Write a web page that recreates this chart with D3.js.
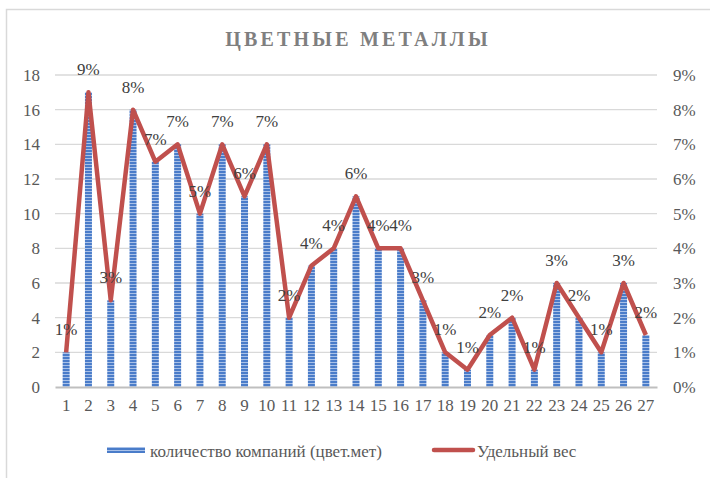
<!DOCTYPE html>
<html>
<head>
<meta charset="utf-8">
<script src="https://cdn.jsdelivr.net/npm/d3@7"></script>
<style>
  body { margin: 0; background: #fff; }
  svg text { font-family: "Liberation Serif", "Times New Roman", Tinos, "DejaVu Serif", "Noto Serif", Times, serif !important; }
</style>
</head>
<body>
<script>
// chart data
const categories = ["1","2","3","4","5","6","7","8","9","10","11","12","13","14","15","16","17","18","19","20","21","22","23","24","25","26","27"];
const companies  = [2, 17, 5, 16, 13, 14, 10, 14, 11, 14, 4, 7, 8, 11, 8, 8, 5, 2, 1, 3, 4, 1, 6, 4, 2, 6, 3];
const shares     = [0.010, 0.085, 0.025, 0.080, 0.065, 0.070, 0.050, 0.070, 0.055, 0.070, 0.020, 0.035, 0.040, 0.055,
                    0.040, 0.040, 0.025, 0.010, 0.005, 0.015, 0.020, 0.005, 0.030, 0.020, 0.010, 0.030, 0.015];
const shareLabels = ["1%","9%","3%","8%","7%","7%","5%","7%","6%","7%","2%","4%","4%","6%","4%","4%","3%","1%","1%","2%",
                     "2%","1%","3%","2%","1%","3%","2%"];
const leftTicks  = [0, 2, 4, 6, 8, 10, 12, 14, 16, 18];
const rightTicks = [0, 0.01, 0.02, 0.03, 0.04, 0.05, 0.06, 0.07, 0.08, 0.09];
const title = "ЦВЕТНЫЕ МЕТАЛЛЫ";
const seriesNames = ["количество компаний (цвет.мет)", "Удельный вес"];

const width = 710, height = 478;
const margin = { top: 75, right: 53, bottom: 91, left: 55 };
const plotW = width - margin.left - margin.right;
const plotH = height - margin.top - margin.bottom;

const svg = d3.select("body").append("svg")
    .attr("width", width)
    .attr("height", height);

// striped fill for the bars
const defs = svg.append("defs");
const pat = defs.append("pattern")
    .attr("id", "stripes")
    .attr("patternUnits", "userSpaceOnUse")
    .attr("width", 8).attr("height", 3);
pat.append("rect").attr("width", 8).attr("height", 3).attr("fill", "#a9c1e8");
pat.append("rect").attr("width", 8).attr("height", 2).attr("fill", "#4a7cc9");

// outer frame
svg.append("rect")
    .attr("x", 6.5).attr("y", 9.5)
    .attr("width", 720).attr("height", 490)
    .attr("fill", "none")
    .attr("stroke", "#d9d9d9")
    .attr("stroke-width", 1.5);

svg.append("text")
    .attr("x", 358).attr("y", 46)
    .attr("text-anchor", "middle")
    .attr("font-size", 20)
    .attr("font-weight", "bold")
    .attr("letter-spacing", 3.2)
    .attr("fill", "#7f7f7f")
    .text(title);

const g = svg.append("g").attr("transform", `translate(${margin.left},${margin.top})`);

const x = d3.scaleBand().domain(categories).range([0, plotW]);
const yL = d3.scaleLinear().domain([0, 18]).range([plotH, 0]);
const yR = d3.scaleLinear().domain([0, 0.09]).range([plotH, 0]);

// gridlines
g.append("g")
    .selectAll("line")
    .data(leftTicks.filter(d => d > 0))
    .join("line")
    .attr("x1", 0).attr("x2", plotW)
    .attr("y1", d => yL(d)).attr("y2", d => yL(d))
    .attr("stroke", "#d9d9d9")
    .attr("stroke-width", 1.3);

// left axis
g.append("g")
    .call(d3.axisLeft(yL).tickValues(leftTicks).tickSize(0).tickPadding(15))
    .call(a => a.select(".domain").remove())
    .call(a => a.selectAll("text")
        .attr("font-size", 17)
        .attr("fill", "#595959"));

// right axis
g.append("g")
    .attr("transform", `translate(${plotW},0)`)
    .call(d3.axisRight(yR).tickValues(rightTicks).tickSize(0).tickPadding(16)
        .tickFormat(d3.format(".0%")))
    .call(a => a.select(".domain").remove())
    .call(a => a.selectAll("text")
        .attr("font-size", 17)
        .attr("fill", "#595959"));

// bars
const barW = 7;
g.append("g")
    .selectAll("rect")
    .data(companies)
    .join("rect")
    .attr("x", (d, i) => x(categories[i]) + x.bandwidth() / 2 - barW / 2)
    .attr("y", d => yL(d))
    .attr("width", barW)
    .attr("height", d => plotH - yL(d))
    .attr("fill", "url(#stripes)");

// bottom axis
g.append("g")
    .attr("transform", `translate(0,${plotH})`)
    .call(d3.axisBottom(x).tickSize(0).tickPadding(12))
    .call(a => a.select(".domain").attr("stroke", "#bfbfbf").attr("stroke-width", 2))
    .call(a => a.selectAll("text")
        .attr("font-size", 17)
        .attr("fill", "#595959"));

// share line
const line = d3.line()
    .x((d, i) => x(categories[i]) + x.bandwidth() / 2)
    .y(d => yR(d));

g.append("path")
    .datum(shares)
    .attr("fill", "none")
    .attr("stroke", "#c0504d")
    .attr("stroke-width", 4.5)
    .attr("stroke-linejoin", "round")
    .attr("d", line);

// data labels
g.append("g")
    .selectAll("text")
    .data(shares)
    .join("text")
    .attr("x", (d, i) => x(categories[i]) + x.bandwidth() / 2)
    .attr("y", d => yR(d) - 17)
    .attr("text-anchor", "middle")
    .attr("font-size", 17)
    .attr("fill", "#404040")
    .text((d, i) => shareLabels[i]);

// legend
const leg = svg.append("g").attr("transform", "translate(0,451)");
leg.append("rect")
    .attr("x", 107).attr("y", -4)
    .attr("width", 38).attr("height", 6)
    .attr("fill", "url(#stripes)");
leg.append("text")
    .attr("x", 150).attr("y", 6)
    .attr("font-size", 17)
    .attr("fill", "#595959")
    .text(seriesNames[0]);
leg.append("line")
    .attr("x1", 434).attr("x2", 473)
    .attr("y1", -1).attr("y2", -1)
    .attr("stroke", "#c0504d")
    .attr("stroke-width", 4.5)
    .attr("stroke-linecap", "round");
leg.append("text")
    .attr("x", 477).attr("y", 6)
    .attr("font-size", 17)
    .attr("fill", "#595959")
    .text(seriesNames[1]);
</script>
</body>
</html>
